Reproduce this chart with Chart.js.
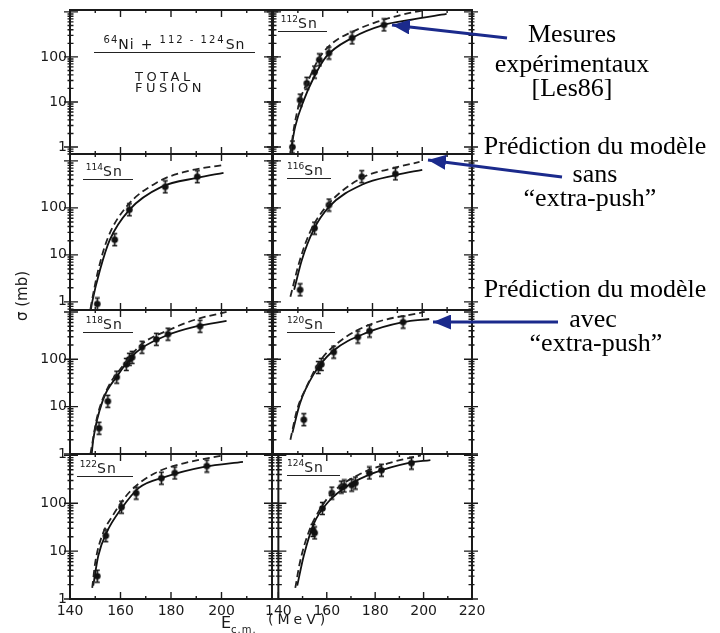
<!DOCTYPE html>
<html>
<head>
<meta charset="utf-8">
<script src="https://cdn.jsdelivr.net/npm/chart.js@4.4.1/dist/chart.umd.min.js"></script>
<style>
  body { margin: 0; background: #fff; width: 720px; height: 633px; position: relative; overflow: hidden;
         font-family: "DejaVu Sans", sans-serif; color: #1a1a1a; }
  .panel { position: absolute; }
  .iso { position: absolute; height: 17px; border-bottom: 1.5px solid #222; line-height: 17px; white-space: nowrap; }
  .iso .m { font-size: 9px; position: relative; top: -6px; }
  .iso .s { font-size: 14px; letter-spacing: 1px; }
  .txt { position: absolute; white-space: nowrap; }
  .note { position: absolute; width: 300px; text-align: center; font-family: "Liberation Serif", serif;
          font-size: 26px; line-height: 26px; color: #000; white-space: nowrap; }
</style>
</head>
<body>

<script>
// E c.m. (MeV) and sigma (mb)
// 112Sn
const expE112 = [147.8, 150.9, 153.6, 156.7, 158.6, 162.5, 171.8, 184.6];
const expS112 = [1.0, 11, 26, 46, 86, 122, 264, 513];
const avecE112 = [147, 148.9, 152.4, 156.3, 161.3, 171.8, 184.6, 195, 209.8];
const avecS112 = [0.74, 2.8, 11, 34, 100, 264, 513, 660, 900];
const sansE112 = [147, 148.5, 150.9, 154.3, 158.6, 164, 171.8, 180.7, 195, 204];
const sansS112 = [0.74, 2.8, 11, 31, 95, 205, 360, 570, 950, 1170];
// 114Sn
const expE114 = [150.8, 157.7, 163.5, 177.7, 190.4];
const expS114 = [0.9, 21, 91, 280, 460];
const avecE114 = [148.3, 148.8, 151.9, 155.8, 163.5, 176.2, 190.4, 200.8];
const avecS114 = [0.7, 1, 4.8, 21, 91, 280, 435, 555];
const sansE114 = [148.1, 148.6, 151.2, 155, 162.3, 175, 185.4, 200.8];
const sansS114 = [0.7, 1, 4.8, 23, 105, 360, 585, 820];
// 116Sn
const expE116 = [150.9, 156.7, 162.5, 175.7, 189.2];
const expS116 = [1.8, 37, 115, 460, 530];
const avecE116 = [148.5, 151.6, 156.3, 162.5, 175.7, 189.6, 200];
const avecS116 = [1.8, 7.8, 34, 105, 310, 500, 645];
const sansE116 = [147, 150.5, 154.7, 161.3, 175.7, 188.4, 198.9];
const sansS116 = [1.28, 6.8, 29, 105, 435, 700, 950];
// 118Sn
const expE118 = [151.5, 155, 158.5, 162.3, 163.5, 164.6, 168.5, 174.2, 178.8, 191.5];
const expS118 = [3.5, 13, 42, 78, 100, 110, 180, 265, 340, 500];
const avecE118 = [148.6, 149.2, 153.1, 158.5, 166.2, 177.7, 190.4, 202];
const avecS118 = [1, 2, 14, 43, 140, 310, 500, 645];
const sansE118 = [148.1, 150.8, 154.6, 160.8, 168.5, 180, 190.4, 202];
const sansS118 = [1, 6.2, 23, 71, 210, 435, 710, 1000];
// 120Sn
const expE120 = [152.4, 158.2, 159.4, 164.4, 174.1, 178.8, 192.3];
const expS120 = [5.3, 67, 78, 142, 295, 395, 610];
const avecE120 = [147.8, 150.9, 156.3, 164, 178, 192.3, 202.8];
const avecS120 = [2.8, 12, 48, 148, 370, 610, 710];
const sansE120 = [147, 149.7, 153.6, 158.6, 166.4, 179.5, 201];
const sansS120 = [2, 8.7, 27, 87, 230, 555, 1000];
// 122Sn
const expE122 = [150.8, 154.2, 160.4, 166.2, 176.2, 181.5, 194.2];
const expS122 = [3.0, 21, 83, 163, 335, 430, 600];
const avecE122 = [149.2, 151.2, 154.6, 160.4, 167.3, 177.7, 193.1, 208.5];
const avecS122 = [1.9, 8, 25, 78, 210, 355, 575, 730];
const sansE122 = [148.8, 150, 152.7, 157, 163.5, 173.8, 185.4, 200.8];
const sansS122 = [1.7, 5.8, 21, 56, 170, 430, 690, 1000];
// 124Sn
const expE124 = [154.3, 155, 158.2, 162.1, 166, 167.2, 170.3, 171.8, 177.6, 182.6, 195];
const expS124 = [27, 24, 78, 163, 218, 230, 240, 265, 430, 490, 690];
const avecE124 = [147.8, 150.5, 154.7, 160.5, 169.1, 179.5, 193.5, 202.8];
const avecS124 = [1.9, 8, 38, 105, 240, 430, 690, 800];
const sansE124 = [147, 148.9, 152.4, 157.4, 162.5, 173, 185.7, 198.9];
const sansS124 = [1.7, 5.8, 24, 78, 170, 390, 690, 1000];

const xTickValues = [140, 150, 160, 170, 180, 190, 200, 210, 220];
const xLabelsLeft = [140, 160, 180, 200];
const xLabelsRight = [140, 160, 180, 200, 220];
const yLabelValues = [1, 10, 100];

// panel layout (pixels) and log ranges per row
const colX = [70, 273], colW = [202, 199];
const rowY = [10, 154, 310, 454], rowH = [144, 156, 144, 145];
const rowMin = [0.7, 0.67, 1, 1], rowMax = [1100, 1400, 1100, 1070];

const panels = [
  { col: 0, row: 0 },
  { col: 1, row: 0, exp: [expE112, expS112], avec: [avecE112, avecS112], sans: [sansE112, sansS112] },
  { col: 0, row: 1, exp: [expE114, expS114], avec: [avecE114, avecS114], sans: [sansE114, sansS114] },
  { col: 1, row: 1, exp: [expE116, expS116], avec: [avecE116, avecS116], sans: [sansE116, sansS116] },
  { col: 0, row: 2, exp: [expE118, expS118], avec: [avecE118, avecS118], sans: [sansE118, sansS118] },
  { col: 1, row: 2, exp: [expE120, expS120], avec: [avecE120, avecS120], sans: [sansE120, sansS120] },
  { col: 0, row: 3, exp: [expE122, expS122], avec: [avecE122, avecS122], sans: [sansE122, sansS122] },
  { col: 1, row: 3, exp: [expE124, expS124], avec: [avecE124, avecS124], sans: [sansE124, sansS124] }
];

function zip(pair) {
  return pair[0].map((e, i) => ({ x: e, y: pair[1][i] }));
}

// black dot with a small error bar
function makeMarker() {
  const c = document.createElement('canvas');
  c.width = 11; c.height = 15;
  const g = c.getContext('2d');
  g.strokeStyle = '#111'; g.fillStyle = '#111'; g.lineWidth = 1.6;
  g.beginPath();
  g.moveTo(5.5, 1); g.lineTo(5.5, 14);
  g.moveTo(3, 1.5); g.lineTo(8, 1.5);
  g.moveTo(3, 13.5); g.lineTo(8, 13.5);
  g.stroke();
  g.beginPath(); g.arc(5.5, 7.5, 3.3, 0, Math.PI * 2); g.fill();
  return c;
}
const marker = makeMarker();

// frame + inward ticks like the original plates
const framePlugin = {
  id: 'frame',
  afterDraw(chart) {
    const ctx = chart.ctx, a = chart.chartArea;
    const x = chart.scales.x, y = chart.scales.y;
    ctx.save();
    ctx.strokeStyle = '#1a1a1a';
    ctx.lineWidth = 2;
    ctx.strokeRect(a.left, a.top, a.width, a.height);
    ctx.lineWidth = 1.4;
    ctx.beginPath();
    xTickValues.forEach(v => {
      const px = x.getPixelForValue(v);
      const len = v % 20 === 0 ? 7 : 3;
      ctx.moveTo(px, a.bottom); ctx.lineTo(px, a.bottom - len);
      ctx.moveTo(px, a.top); ctx.lineTo(px, a.top + len);
    });
    for (let k = -1; k <= 3; k++) {
      for (let d = 1; d <= 9; d++) {
        const v = d * Math.pow(10, k);
        if (v < y.min || v > y.max) continue;
        const py = y.getPixelForValue(v);
        const out = d === 1 ? 6 : 2.5, inn = d === 1 ? 8 : 3.5;
        ctx.moveTo(a.left - out, py); ctx.lineTo(a.left + inn, py);
        ctx.moveTo(a.right + out, py); ctx.lineTo(a.right - inn, py);
      }
    }
    ctx.stroke();
    ctx.restore();
  }
};

const T = 12, R = 20;
panels.forEach(p => {
  const showX = p.row === 3, showY = p.col === 0;
  const L = showY ? 62 : 12;
  const B = showX ? 34 : 12;
  const div = document.createElement('div');
  div.className = 'panel';
  div.style.left = (colX[p.col] - L) + 'px';
  div.style.top = (rowY[p.row] - T) + 'px';
  div.style.width = (colW[p.col] + L + R) + 'px';
  div.style.height = (rowH[p.row] + T + B) + 'px';
  const cv = document.createElement('canvas');
  div.appendChild(cv);
  document.body.appendChild(div);

  const datasets = [];
  if (p.sans) datasets.push({ data: zip(p.sans), showLine: true, pointRadius: 0, borderColor: '#222',
    borderWidth: 1.8, borderDash: [7, 4], cubicInterpolationMode: 'monotone' });
  if (p.avec) datasets.push({ data: zip(p.avec), showLine: true, pointRadius: 0, borderColor: '#111',
    borderWidth: 1.8, cubicInterpolationMode: 'monotone' });
  if (p.exp) datasets.push({ data: zip(p.exp), showLine: false, pointStyle: marker, pointRadius: 6 });

  const xLabels = p.col === 0 ? xLabelsLeft : xLabelsRight;
  new Chart(cv, {
    type: 'scatter',
    data: { datasets: datasets },
    options: {
      responsive: true,
      maintainAspectRatio: false,
      animation: false,
      devicePixelRatio: 1,
      layout: { padding: { top: T, right: R, left: showY ? 0 : L, bottom: showX ? 0 : B } },
      plugins: { legend: { display: false }, tooltip: { enabled: false } },
      scales: {
        x: {
          type: 'linear', min: 140, max: 220, display: showX,
          grid: { display: false, drawTicks: false }, border: { display: false },
          afterBuildTicks: s => { s.ticks = xLabels.map(v => ({ value: v })); },
          afterFit: s => { if (showX) s.height = B; },
          ticks: { padding: 4, maxRotation: 0, autoSkip: false, color: '#1a1a1a',
                   font: { family: 'DejaVu Sans', size: 14 } }
        },
        y: {
          type: 'logarithmic', min: rowMin[p.row], max: rowMax[p.row], display: showY,
          grid: { display: false, drawTicks: false }, border: { display: false },
          afterBuildTicks: s => {
            s.ticks = yLabelValues.filter(v => v >= s.min && v <= s.max).map(v => ({ value: v }));
          },
          afterFit: s => { if (showY) s.width = L; },
          ticks: { padding: 3, color: '#1a1a1a', font: { family: 'DejaVu Sans', size: 14 },
                   callback: v => String(v) }
        }
      }
    },
    plugins: [framePlugin]
  });
});
</script>

<!-- isotope labels -->
<div class="iso" style="left:94px;top:35px;width:161px;text-align:center;letter-spacing:1px">
  <span class="m" style="font-size:10px">64</span><span class="s">Ni</span> <span class="s">+</span>
  <span class="m" style="font-size:10px;letter-spacing:2px">112 - 124</span><span class="s">Sn</span>
</div>
<div class="txt" style="left:135px;top:71px;font-size:13px;line-height:11px;letter-spacing:3.5px">TOTAL<br>FUSION</div>

<div class="iso" style="left:278px;top:14px;width:49px"><span class="m">&nbsp;112</span><span class="s">Sn</span></div>
<div class="iso" style="left:83px;top:162px;width:50px"><span class="m">&nbsp;114</span><span class="s">Sn</span></div>
<div class="iso" style="left:287px;top:161px;width:44px"><span class="m">116</span><span class="s">Sn</span></div>
<div class="iso" style="left:83px;top:315px;width:50px"><span class="m">&nbsp;118</span><span class="s">Sn</span></div>
<div class="iso" style="left:287px;top:315px;width:48px"><span class="m">120</span><span class="s">Sn</span></div>
<div class="iso" style="left:77px;top:459px;width:56px"><span class="m">&nbsp;122</span><span class="s">Sn</span></div>
<div class="iso" style="left:287px;top:458px;width:53px"><span class="m">124</span><span class="s">Sn</span></div>

<!-- axis titles -->
<div class="txt" style="left:-8px;top:287px;width:60px;text-align:center;font-size:15px;transform:rotate(-90deg)">σ (mb)</div>
<div class="txt" style="left:221px;top:613px;font-size:16px">E<span style="font-size:10px;position:relative;top:5px;letter-spacing:1px">c.m.</span></div>
<div class="txt" style="left:268px;top:611px;font-size:14px;letter-spacing:4px">(MeV)</div>

<!-- annotations -->
<div class="note" style="left:422px;top:21px">Mesures</div>
<div class="note" style="left:422px;top:51px">expérimentaux</div>
<div class="note" style="left:422px;top:75px">[Les86]</div>
<div class="note" style="left:445px;top:133px">Prédiction du modèle</div>
<div class="note" style="left:445px;top:161px">sans</div>
<div class="note" style="left:440px;top:185px">“extra-push”</div>
<div class="note" style="left:445px;top:276px">Prédiction du modèle</div>
<div class="note" style="left:443px;top:306px">avec</div>
<div class="note" style="left:446px;top:330px">“extra-push”</div>

<svg width="720" height="633" style="position:absolute;left:0;top:0;pointer-events:none">
  <defs>
    <marker id="ah" markerWidth="6" markerHeight="5" refX="6" refY="2.5" orient="auto" markerUnits="strokeWidth">
      <path d="M0,0 L6,2.5 L0,5 z" fill="#1b2a8c"/>
    </marker>
  </defs>
  <line x1="507" y1="38" x2="392" y2="25" stroke="#1b2a8c" stroke-width="3" marker-end="url(#ah)"/>
  <line x1="562" y1="177" x2="428" y2="160" stroke="#1b2a8c" stroke-width="3" marker-end="url(#ah)"/>
  <line x1="558" y1="322" x2="433" y2="322" stroke="#1b2a8c" stroke-width="3" marker-end="url(#ah)"/>
</svg>
</body>
</html>
